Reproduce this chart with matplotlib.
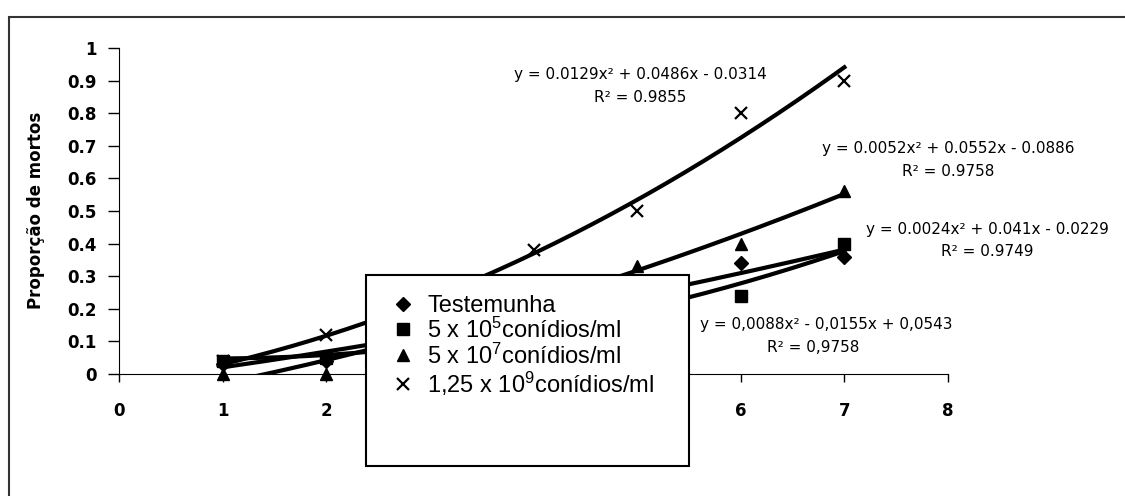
import matplotlib.pyplot as plt
import numpy as np
from matplotlib.patches import Rectangle

plt.rcParams['font.family'] = ['Liberation Sans', 'DejaVu Sans']
plt.rcParams['mathtext.fontset'] = 'custom'
plt.rcParams['mathtext.rm'] = 'Liberation Sans'
plt.rcParams['mathtext.default'] = 'regular'

# data
dias = [1, 2, 3, 4, 5, 6, 7]
testemunha = [0.03, 0.04, 0.10, 0.19, 0.25, 0.34, 0.36]
c5e5 = [0.04, 0.05, 0.08, 0.12, 0.18, 0.24, 0.40]
c5e7 = [0.00, 0.00, 0.10, 0.20, 0.33, 0.40, 0.56]
c125e9 = [0.04, 0.12, 0.22, 0.38, 0.50, 0.80, 0.90]

labels = ["Testemunha", "5 x 10$^5$conídios/ml", "5 x 10$^7$conídios/ml",
          "1,25 x 10$^9$conídios/ml"]
markers = ["D", "s", "^", "x"]
msizes = [7, 8.5, 9, 9]

# x tick labels (3, 4 and 5 are covered by the legend box in the original)
xtick_labels = ["0", "1", "2", "", "", "", "6", "7", "8"]

# trendline coefficients (as printed on the chart)
coef_test = [0.0024, 0.041, -0.0229]
coef_5e5 = [0.0088, -0.0155, 0.0543]
coef_5e7 = [0.0052, 0.0552, -0.0886]
coef_125e9 = [0.0129, 0.0486, -0.0314]
eq_lines = ["y = 0.0024x² + 0.041x - 0.0229",
            "y = 0,0088x² - 0,0155x + 0,0543",
            "y = 0.0052x² + 0.0552x - 0.0886",
            "y = 0.0129x² + 0.0486x - 0.0314"]
r2_lines = ["R² = 0.9749", "R² = 0,9758", "R² = 0.9758", "R² = 0.9855"]
# label positions in pixels: (center x, equation y, R2 y)
eq_pos = [(987, 230, 252), (826, 324, 347), (948, 149, 172), (640, 75, 98)]
r2_x = [987, 813, 948, 640]

fig = plt.figure(figsize=(11.25, 4.96), dpi=100)
W, H = 1125, 496
fig.patches.append(Rectangle((9 / W, -0.1), 1.2, 1 - 17 / H + 0.1,
                             transform=fig.transFigure, fill=False,
                             edgecolor="#333333", linewidth=1.5))
ax = fig.add_axes([119 / W, 1 - 374 / H, (948 - 119) / W, (374 - 48) / H])

series = [testemunha, c5e5, c5e7, c125e9]
coefs = [coef_test, coef_5e5, coef_5e7, coef_125e9]
xs = np.linspace(1, 7, 200)
handles = []
for vals, m, ms, lab, cf in zip(series, markers, msizes, labels, coefs):
    ax.plot(xs, np.polyval(cf, xs), color="black", lw=3, zorder=2)
    h, = ax.plot(dias, vals, ls="none", marker=m, ms=ms, mew=1.6 if m == "x" else 1,
                 color="black", label=lab, zorder=3, clip_on=False)
    handles.append(h)

for eq, r2, (px, py1, py2), rx in zip(eq_lines, r2_lines, eq_pos, r2_x):
    fig.text(px / W, 1 - py1 / H, eq, ha="center", va="center",
             fontsize=11, family="DejaVu Sans", zorder=1)
    fig.text(rx / W, 1 - py2 / H, r2, ha="center", va="center",
             fontsize=11, family="DejaVu Sans", zorder=1)

ax.set_xlim(0, 8)
ax.set_ylim(0, 1)
ax.set_xticks(range(0, 9))
ax.set_xticklabels(xtick_labels)
ax.set_yticks(np.arange(0, 1.01, 0.1))
ax.set_yticklabels(["0"] + ["%.1f" % v for v in np.arange(0.1, 0.95, 0.1)] + ["1"])
ax.tick_params(axis="y", labelsize=12, width=1, length=8, pad=8, direction="out")
ax.tick_params(axis="x", labelsize=12, width=1, length=6, pad=14, direction="out")
for t in ax.get_xticklabels() + ax.get_yticklabels():
    t.set_fontweight("bold")
    t.set_family("DejaVu Sans")
ax.spines["top"].set_visible(False)
ax.spines["right"].set_visible(False)
ax.patch.set_alpha(0)
fig.text(36 / W, 1 - 210 / H, "Proporção de mortos", rotation=90, ha="center",
         va="center", fontsize=12, fontweight="bold", family="DejaVu Sans")

# legend box (white area below entries as in the original)
fig.patches.append(Rectangle((366 / W, 1 - 466 / H), (689 - 366) / W,
                             (466 - 275) / H, transform=fig.transFigure,
                             facecolor="white", edgecolor="black", lw=1.5,
                             zorder=9))
leg = fig.legend(handles=handles, loc="upper left",
                 bbox_to_anchor=(377 / W, 1 - 283 / H), fontsize=17,
                 frameon=False, borderpad=0, handlelength=1.2,
                 handletextpad=0.42, labelspacing=0.03)
leg.set_zorder(10)

fig.savefig("out.png", dpi=100)
